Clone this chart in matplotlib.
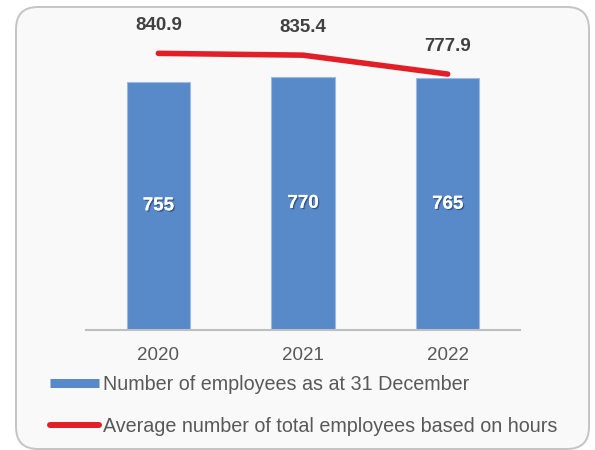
import matplotlib.pyplot as plt
import matplotlib.patheffects as pe
from matplotlib.patches import FancyBboxPatch
from matplotlib.lines import Line2D
from matplotlib.transforms import IdentityTransform

# Headcount figures
years = ['2020', '2021', '2022']
employees_dec31 = [755, 770, 765]
avg_employees_hours = [840.9, 835.4, 777.9]

bar_label = 'Number of employees as at 31 December'
line_label = 'Average number of total employees based on hours'

BLUE = '#5889C9'
RED = '#E21E26'
GREY_TXT = '#595959'

plt.rcParams['font.family'] = ['Liberation Sans', 'DejaVu Sans']

fig = plt.figure(figsize=(5.95, 4.5), dpi=100)
fig.patch.set_facecolor('white')

# rounded panel behind the chart (pixel coords)
panel = FancyBboxPatch((16, 1), 573, 442,
                       boxstyle='round,pad=0,rounding_size=22',
                       transform=IdentityTransform(),
                       facecolor='#F9F9F9', edgecolor='#C4C4C4',
                       linewidth=1.4, zorder=-1)
fig.patches.append(panel)

ymax = 900
ax = fig.add_axes([86 / 595, (450 - 330) / 450, 434 / 595, ymax * 0.329 / 450])
ax.set_facecolor('none')

x = list(range(len(years)))
bars = ax.bar(x, employees_dec31, width=0.44, color=BLUE,
              edgecolor='#9DBBE2', linewidth=0.8, zorder=2)
ax.plot(x, avg_employees_hours, color=RED, linewidth=4.0,
        solid_capstyle='round', zorder=3)

# values inside the bars
shadow = [pe.withSimplePatchShadow(offset=(1, -1), shadow_rgbFace='#1F3A66',
                                   alpha=0.6), pe.Normal()]
for xi, v in zip(x, employees_dec31):
    ax.text(xi, v / 2, str(v), ha='center', va='center', color='white',
            fontsize=13.5, fontweight='bold', path_effects=shadow, zorder=4)

# values above the line
for xi, v in zip(x, avg_employees_hours):
    ax.annotate(f'{v:.1f}', (xi, v), xytext=(0, 20), textcoords='offset points',
                ha='center', va='center', color='#404040', fontsize=13.5,
                fontweight='bold', annotation_clip=False)

ax.set_xlim(-0.5, 2.5)
ax.set_ylim(0, ymax)
ax.set_xticks(x)
ax.set_xticklabels(years, fontsize=13.5, color=GREY_TXT)
ax.tick_params(axis='x', length=0, pad=12)
ax.set_yticks([])
for side in ['top', 'left', 'right']:
    ax.spines[side].set_visible(False)
ax.spines['bottom'].set_color('#BFBFBF')
ax.spines['bottom'].set_linewidth(1.5)

handles = [Line2D([0], [0], color=BLUE, linewidth=6.5, solid_capstyle='butt'),
           Line2D([0], [0], color=RED, linewidth=4.3, solid_capstyle='round')]
fig.legend(handles, [bar_label, line_label], loc='upper left',
           bbox_to_anchor=(50 / 595, 1 - 375 / 450), frameon=False,
           fontsize=14.2, labelcolor=GREY_TXT, handlelength=2.5,
           handletextpad=0.2, labelspacing=1.15, borderpad=0, borderaxespad=0)

fig.savefig('out.png', dpi=100)
